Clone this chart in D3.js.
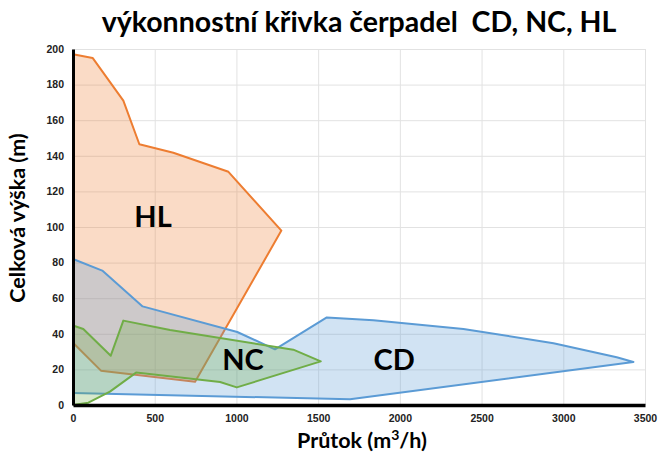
<!DOCTYPE html>
<html>
<head>
<meta charset="utf-8">
<script src="https://cdn.jsdelivr.net/npm/d3@7"></script>
<style>
  body { margin: 0; background: #fff; }
  svg { font-family: Lato, "Open Sans", sans-serif; }
  .tick text { font-size: 10.5px; font-weight: bold; fill: #222; }
  .grid line { stroke: #e2e2e2; }
  .grid path { display: none; }
</style>
</head>
<body>
<div id="chart"></div>
<script>
let width = 659, height = 456;
let margin = { left: 73, right: 14, top: 49, bottom: 51 };

let xTicks = [0, 500, 1000, 1500, 2000, 2500, 3000, 3500];
let yTicks = [0, 20, 40, 60, 80, 100, 120, 140, 160, 180, 200];

// pump envelopes, [flow m3/h, head m], traced around each area
let hlFlow = [0, 120, 308, 406, 614, 951, 1275, 747, 171, 0];
let hlHead = [197, 195, 171, 146.5, 141.7, 131, 98, 13, 19.3, 35];

let cdFlow = [0, 179, 426, 1005, 1236, 1553, 1838, 2389, 2940, 3327, 3429, 1695, 0];
let cdHead = [82, 75.5, 55.4, 41, 31.3, 49.2, 47.6, 42.7, 34.7, 26.8, 24.2, 3.2, 6.8];

let ncFlow = [0, 63, 231, 308, 594, 1348, 1516, 1002, 900, 386, 226, 94, 0];
let ncHead = [44.7, 42.7, 27.7, 47.4, 42.1, 31.1, 24.5, 9.9, 12.9, 18.2, 7.5, 1.3, 0];

let series = [
  { name: "HL", flow: hlFlow, head: hlHead, color: "#ED7D31", label: [490, 100] },
  { name: "CD", flow: cdFlow, head: cdHead, color: "#5B9BD5", label: [1965, 19.7] },
  { name: "NC", flow: ncFlow, head: ncHead, color: "#70AD47", label: [1040, 19.7] }
];

let svg = d3.select("#chart").append("svg")
  .attr("width", width)
  .attr("height", height);

let xScale = d3.scaleLinear().domain([0, 3500]).range([margin.left, width - margin.right]);
let yScale = d3.scaleLinear().domain([0, 200]).range([height - margin.bottom, margin.top]);

// grid
svg.append("g")
  .attr("class", "grid")
  .attr("transform", "translate(0," + yScale(0) + ")")
  .call(d3.axisBottom(xScale).tickValues(xTicks).tickFormat("").tickSize(-(yScale(0) - yScale(200))));
svg.append("g")
  .attr("class", "grid")
  .attr("transform", "translate(" + xScale(0) + ",0)")
  .call(d3.axisLeft(yScale).tickValues(yTicks).tickFormat("").tickSize(-(xScale(3500) - xScale(0))));

// areas
let line = d3.line().x(d => xScale(d[0])).y(d => yScale(d[1]));
series.forEach(s => {
  let pts = s.flow.map((f, i) => [f, s.head[i]]);
  svg.append("path")
    .attr("d", line(pts) + "Z")
    .attr("fill", s.color)
    .attr("fill-opacity", 0.28)
    .attr("stroke", "none");
  // outline without the segment that runs along the y axis
  svg.append("path")
    .attr("d", line(pts))
    .attr("fill", "none")
    .attr("stroke", s.color)
    .attr("stroke-width", 2)
    .attr("stroke-linejoin", "round");
});

// axes
let xAxis = svg.append("g")
  .attr("transform", "translate(0," + yScale(0) + ")")
  .call(d3.axisBottom(xScale).tickValues(xTicks).tickFormat(d3.format("d")).tickSize(0).tickPadding(10));
xAxis.select(".domain").attr("stroke", "#000").attr("stroke-width", 3.5);

let yAxis = svg.append("g")
  .attr("transform", "translate(" + xScale(0) + ",0)")
  .call(d3.axisLeft(yScale).tickValues(yTicks).tickSize(0).tickPadding(9));
yAxis.select(".domain").attr("stroke", "#000").attr("stroke-width", 3);

// series labels
series.forEach(s => {
  svg.append("text")
    .attr("x", xScale(s.label[0]))
    .attr("y", yScale(s.label[1]))
    .attr("text-anchor", "middle")
    .attr("font-size", 29)
    .attr("font-weight", "bold")
    .attr("fill", "#000")
    .text(s.name);
});

// title
svg.append("text")
  .attr("x", 359)
  .attr("y", 32)
  .attr("text-anchor", "middle")
  .attr("font-size", 28.5)
  .attr("font-weight", "bold")
  .attr("xml:space", "preserve")
  .text("výkonnostní křivka čerpadel  CD, NC, HL");

// axis titles
let xTitle = svg.append("text")
  .attr("x", 362)
  .attr("y", 448)
  .attr("text-anchor", "middle")
  .attr("font-size", 21.5)
  .attr("font-weight", "bold");
xTitle.append("tspan").text("Průtok (m");
xTitle.append("tspan").attr("font-size", 14).attr("dy", -8).text("3");
xTitle.append("tspan").attr("dy", 8).text("/h)");

svg.append("text")
  .attr("transform", "translate(25,218) rotate(-90)")
  .attr("text-anchor", "middle")
  .attr("font-size", 21.5)
  .attr("font-weight", "bold")
  .text("Celková výška (m)");
</script>
</body>
</html>
